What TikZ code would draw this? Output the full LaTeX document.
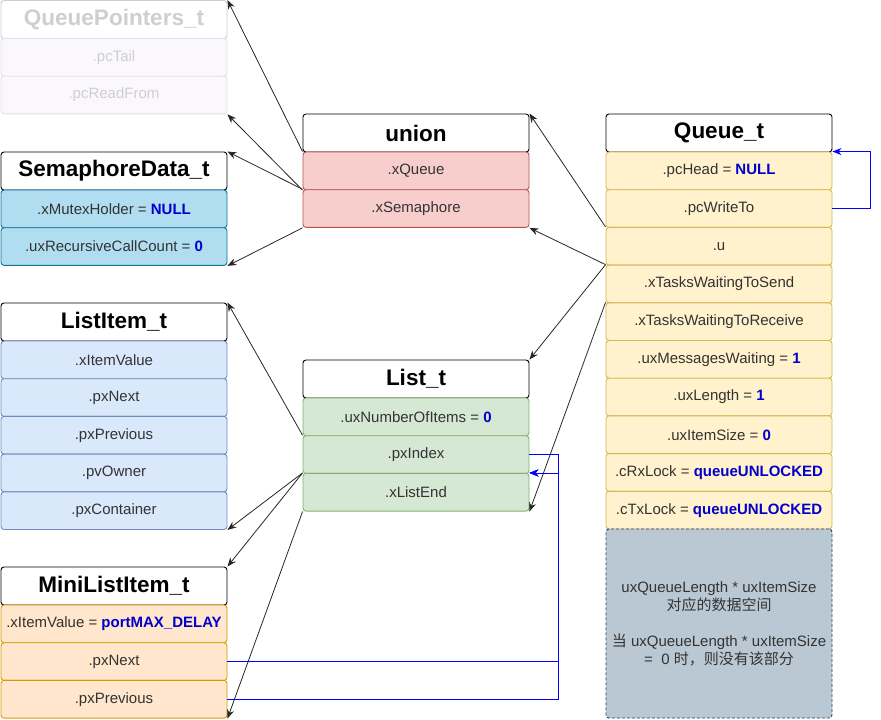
\documentclass[tikz,border=0pt]{standalone}
\usepackage{xcolor}
\usepackage{fontspec}
\usepackage{tikz}
\usetikzlibrary{arrows.meta}
\setmainfont{Liberation Sans}
\newfontfamily\cjk{Noto Sans CJK SC}

\definecolor{txt}{HTML}{333333}
\definecolor{valblue}{HTML}{0000CC}
\definecolor{linkblue}{HTML}{0000FF}
\definecolor{ptrfill}{HTML}{FAF8FC}
\definecolor{ptrline}{HTML}{E6DEEC}
\definecolor{ptrtext}{HTML}{CFCFCF}
\definecolor{semfill}{HTML}{B1DDF0}
\definecolor{semline}{HTML}{10739E}
\definecolor{unfill}{HTML}{F8CECC}
\definecolor{unline}{HTML}{B85450}
\definecolor{qfill}{HTML}{FFF2CC}
\definecolor{qline}{HTML}{D6B656}
\definecolor{lifill}{HTML}{DAE8FC}
\definecolor{liline}{HTML}{6C8EBF}
\definecolor{ltfill}{HTML}{D5E8D4}
\definecolor{ltline}{HTML}{82B366}
\definecolor{mlfill}{HTML}{FFE6CC}
\definecolor{mlline}{HTML}{D79B00}
\definecolor{notefill}{HTML}{BAC8D3}
\definecolor{noteline}{HTML}{23445D}

\newcommand{\val}[1]{\textcolor{valblue}{\bfseries #1}}

\tikzset{
  head/.style={draw=black, fill=white, rounded corners=3pt, minimum width=226pt,
    minimum height=38pt, inner sep=0pt, line width=0.9pt,
    font=\fontsize{22.5}{27}\selectfont\bfseries},
  field/.style={rounded corners=3pt, minimum width=226pt, minimum height=37.7pt,
    inner sep=0pt, line width=0.9pt, text=txt, font=\fontsize{15}{18}\selectfont},
  ptrrow/.style={field, draw=ptrline, fill=ptrfill, text=ptrtext},
  semrow/.style={field, draw=semline, fill=semfill},
  unrow/.style={field, draw=unline, fill=unfill},
  qrow/.style={field, draw=qline, fill=qfill},
  lirow/.style={field, draw=liline, fill=lifill},
  ltrow/.style={field, draw=ltline, fill=ltfill},
  mlrow/.style={field, draw=mlline, fill=mlfill},
  link/.style={draw=black!85, line width=0.8pt, -{Stealth[length=9pt,width=7pt]}},
  bluelink/.style={draw=linkblue, line width=0.9pt, -{Stealth[length=9pt,width=7pt]}},
}

\begin{document}
\begin{tikzpicture}[x=1pt,y=-1pt]
\useasboundingbox (0,0) rectangle (881,720);
%QueuePointers_t
\node[head, draw=ptrline!80!gray, text=ptrtext] (qp) at (114,19.5) {QueuePointers\_t};
\node[ptrrow] (qp-t) at (114,57.35) {.pcTail};
\node[ptrrow] (qp-r) at (114,95.05) {.pcReadFrom};
%SemaphoreData_t
\node[head] (sd) at (114,171) {SemaphoreData\_t};
\node[semrow] (sd-m) at (114,208.85) {.xMutexHolder = \val{NULL}};
\node[semrow] (sd-c) at (114,246.55) {.uxRecursiveCallCount = \val{0}};
%union
\node[head] (un) at (416,133) {union};
\node[unrow] (un-q) at (416,170.85) {.xQueue};
\node[unrow] (un-s) at (416,208.55) {.xSemaphore};
%Queue_t
\node[head] (q) at (719,133) {Queue\_t};
\node[qrow] (q-h) at (719,170.85) {.pcHead = \val{NULL}};
\node[qrow] (q-w) at (719,208.55) {.pcWriteTo};
\node[qrow] (q-u) at (719,246.25) {.u};
\node[qrow] (q-s) at (719,283.95) {.xTasksWaitingToSend};
\node[qrow] (q-r) at (719,321.65) {.xTasksWaitingToReceive};
\node[qrow] (q-m) at (719,359.35) {.uxMessagesWaiting = \val{1}};
\node[qrow] (q-l) at (719,397.05) {.uxLength = \val{1}};
\node[qrow] (q-i) at (719,434.75) {.uxItemSize = \val{0}};
\node[qrow] (q-rx) at (719,472.45) {.cRxLock = \val{queueUNLOCKED}};
\node[qrow] (q-tx) at (719,510.15) {.cTxLock = \val{queueUNLOCKED}};
\node[field, draw=noteline, fill=notefill, dash pattern=on 3pt off 2pt,
  minimum height=189pt, align=center] (q-d) at (719,623.5)
  {uxQueueLength * uxItemSize\\{\cjk 对应的数据空间}\\[18pt]
   {\cjk 当} uxQueueLength * uxItemSize\\=\ \ 0 {\cjk 时，则没有该部分}};
%ListItem_t
\node[head] (li) at (114,322) {ListItem\_t};
\node[lirow] (li-v) at (114,359.85) {.xItemValue};
\node[lirow] (li-n) at (114,397.55) {.pxNext};
\node[lirow] (li-p) at (114,435.25) {.pxPrevious};
\node[lirow] (li-o) at (114,472.95) {.pvOwner};
\node[lirow] (li-c) at (114,510.65) {.pxContainer};
%List_t
\node[head] (lt) at (416,379) {List\_t};
\node[ltrow] (lt-n) at (416,416.85) {.uxNumberOfItems = \val{0}};
\node[ltrow] (lt-i) at (416,454.55) {.pxIndex};
\node[ltrow] (lt-e) at (416,492.25) {.xListEnd};
%MiniListItem_t
\node[head] (ml) at (114,586) {MiniListItem\_t};
\node[mlrow] (ml-v) at (114,623.85) {.xItemValue = \val{portMAX\_DELAY}};
\node[mlrow] (ml-n) at (114,661.55) {.pxNext};
\node[mlrow] (ml-p) at (114,699.25) {.pxPrevious};
%arrows
\draw[link] (un-q.north west) -- (qp.north east);
\draw[link] (un-q.south west) -- (qp-r.south east);
\draw[link] (un-s.north west) -- (sd.north east);
\draw[link] (un-s.south west) -- (sd-c.south east);
\draw[link] (q-u.north west) -- (un.north east);
\draw[link] (q-s.north west) -- (un-s.south east);
\draw[link] (q-s.north west) -- (lt.north east);
\draw[link] (q-r.north west) -- (lt-e.south east);
\draw[link] (lt-i.north west) -- (li.north east);
\draw[link] (lt-e.north west) -- (li-c.south east);
\draw[link] (lt-e.north west) -- (ml.north east);
\draw[link] (lt-e.south west) -- (ml-p.south east);
%blue links
\coordinate (qbus) at (870,0);
\coordinate (lbus) at (558,0);
\draw[bluelink] (q-w.east) -- (q-w.east -| qbus) |- (q-h.north east);
\draw[bluelink] (lt-i.east) -- (lt-i.east -| lbus) |- (lt-e.north east);
\draw[bluelink] (ml-n.east) -- (ml-n.east -| lbus) |- (lt-e.north east);
\draw[bluelink] (ml-p.east) -- (ml-p.east -| lbus) |- (lt-e.north east);
\end{tikzpicture}
\end{document}
